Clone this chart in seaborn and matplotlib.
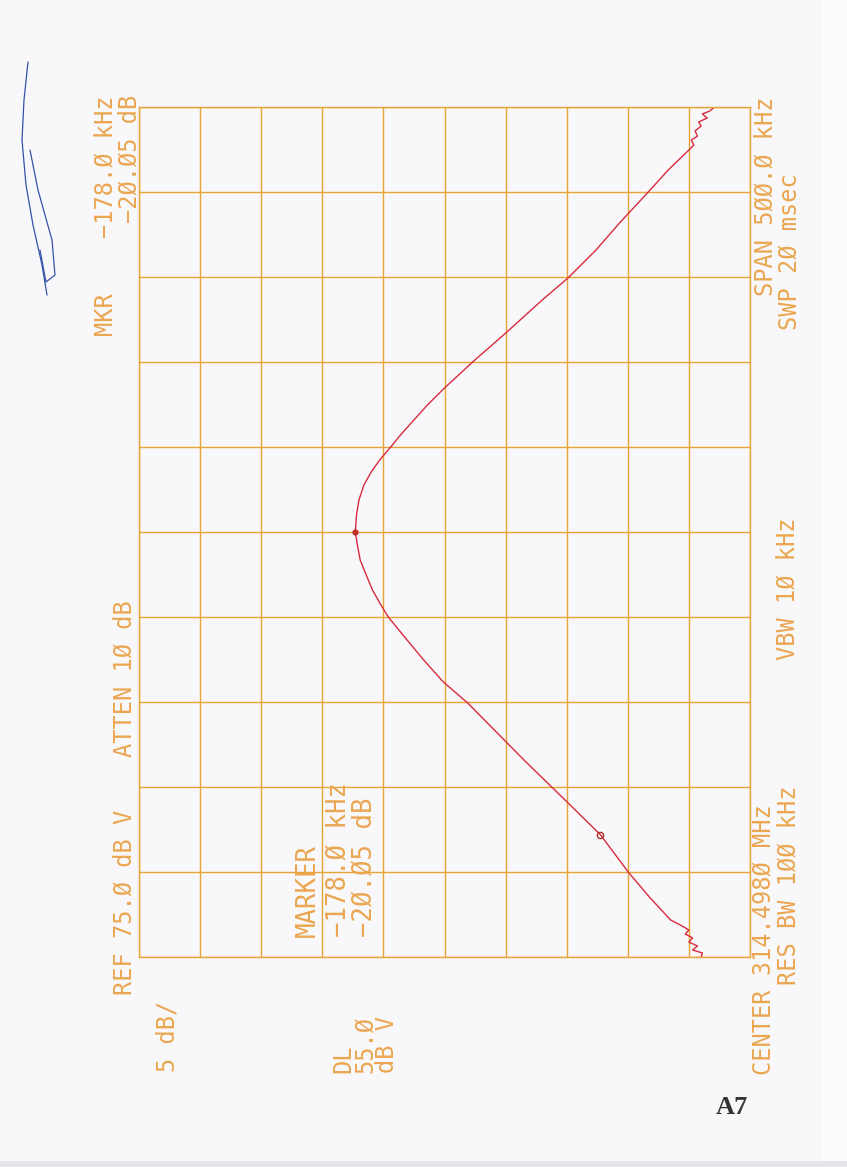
import numpy as np
import pandas as pd
import matplotlib
matplotlib.use('Agg')
import matplotlib.pyplot as plt
import seaborn as sns

# Trace (frequency offset from centre in kHz, level in dBV)
freq_khz = [-250.0, -247.6, -245.9, -243.5, -241.2, -238.8, -236.5, -234.1, -231.2,
            -228.2, -215.0, -200.6, -178.0, -160.0, -134.1, -100.6, -88.2, -75.3,
            -60.6, -50.0, -42.9, -34.1, -16.5, -8.8, 0.0, 10.0, 18.8, 27.6, 35.3,
            42.4, 50.0, 57.1, 65.9, 74.7, 84.7, 100.0, 117.6, 136.5, 149.4, 165.9,
            182.4, 199.4, 212.9, 224.7, 227.6, 230.6, 232.9, 235.9, 238.8, 241.2,
            243.5, 245.9, 247.6, 249.4]
level_dbv = [29.0, 28.9, 29.7, 29.3, 30.0, 29.7, 30.3, 30.0, 30.7,
             31.5, 33.2, 34.9, 37.25, 39.8, 43.5, 48.1, 50.1, 51.7,
             53.4, 54.6, 55.2, 55.9, 56.9, 57.1, 57.3, 57.2, 57.0, 56.6, 56.0,
             55.3, 54.4, 53.6, 52.5, 51.4, 50.0, 47.7, 44.9, 42.0, 39.9, 37.6,
             35.6, 33.4, 31.7, 30.0, 29.6, 29.8, 29.3, 29.5, 29.0, 29.2,
             28.5, 28.9, 28.3, 28.0]

ref_level = 75.0
db_per_div = 5
span_khz = 500.0
peak_khz, peak_dbv = 0.0, 57.3
marker_khz, marker_rel_db = -178.0, -20.05

grid_col = '#e8a236'
text_col = '#eba650'
trace_col = '#d92a3e'

sns.set_theme(style='white')
plt.rcParams['font.family'] = ['DejaVu Sans Mono', 'DejaVu Sans']

W, H = 847, 1167
fig = plt.figure(figsize=(W / 100, H / 100), dpi=100, facecolor='#f8f8fa')
ax = fig.add_axes([139 / W, 1 - 957 / H, (750 - 139) / W, (957 - 107) / H])
ax.set_facecolor('#f8f8fa')

df = pd.DataFrame({'freq': freq_khz, 'level': level_dbv})
sns.lineplot(data=df, x='level', y='freq', sort=False, estimator=None,
             color=trace_col, lw=1.0, ax=ax)
ax.plot([peak_dbv], [peak_khz], 'o', ms=3.5, color='#c0302a')
ax.plot([peak_dbv + marker_rel_db], [marker_khz], 'o', ms=4.5, mfc='none',
        mec='#b03028', mew=1.0)

ax.set_xlim(ref_level, ref_level - 10 * db_per_div)
ax.set_ylim(-span_khz / 2, span_khz / 2)
ax.set_xticks(np.arange(ref_level - 10 * db_per_div, ref_level + 1, db_per_div))
ax.set_yticks(np.arange(-span_khz / 2, span_khz / 2 + 1, span_khz / 10))
ax.grid(True, color=grid_col, lw=1.0)
ax.tick_params(length=0, labelbottom=False, labelleft=False)
ax.set_xlabel('')
ax.set_ylabel('')
for s in ax.spines.values():
    s.set_color(grid_col)
    s.set_linewidth(1.0)


def ftext(x, y, s, va, size=17, color=text_col):
    fig.text(x / W, 1 - y / H, s, rotation=90, ha='center', va=va,
             fontsize=size, color=color)


# left column
ftext(105, 335, 'MKR', 'bottom')
ftext(105, 95, '−178.Ø kHz', 'top')
ftext(129, 95, '−2Ø.Ø5 dB', 'top')
ftext(125, 995, 'REF 75.Ø dB V', 'bottom')
ftext(125, 757, 'ATTEN 1Ø dB', 'bottom')
ftext(167, 1072, '5 dB/', 'bottom')
ftext(343, 1073, 'DL', 'bottom')
ftext(365, 1073, '55.Ø', 'bottom')
ftext(387, 1073, 'dB V', 'bottom')

# marker box
ftext(308, 937, 'MARKER', 'bottom', size=18.5)
ftext(339, 937, '−178.Ø kHz', 'bottom', size=18.5)
ftext(365, 937, '−2Ø.Ø5 dB', 'bottom', size=18.5)

# right column
ftext(765, 97, 'SPAN 5ØØ.Ø kHz', 'top')
ftext(789, 330, 'SWP 2Ø msec', 'bottom')
ftext(787, 660, 'VBW 1Ø kHz', 'bottom')
ftext(763, 1075, 'CENTER 314.498Ø MHz', 'bottom')
ftext(788, 985, 'RES BW 1ØØ kHz', 'bottom')

# page number
fig.text(732 / W, 1 - 1108 / H, 'A7', ha='center', va='center', fontsize=19,
         fontweight='bold', family='Liberation Serif', color='#333333')

# handwritten initials
sig1 = [(28, 62), (24, 100), (22, 140), (26, 185), (33, 225), (42, 265), (47, 295)]
sig2 = [(30, 150), (38, 190), (52, 240), (55, 275), (46, 282), (40, 250)]
for sig in (sig1, sig2):
    xs = [p[0] / W for p in sig]
    ys = [1 - p[1] / H for p in sig]
    fig.add_artist(plt.Line2D(xs, ys, color='#3552a8', lw=0.9))

# page edges of the scan
fig.add_artist(plt.Rectangle((822 / W, 0), 1, 1, color='#fbfbfc', lw=0))
fig.add_artist(plt.Rectangle((0, 0), 1, 6 / H, color='#e6e6ea', lw=0))

fig.savefig('out.png', dpi=100, facecolor=fig.get_facecolor())
